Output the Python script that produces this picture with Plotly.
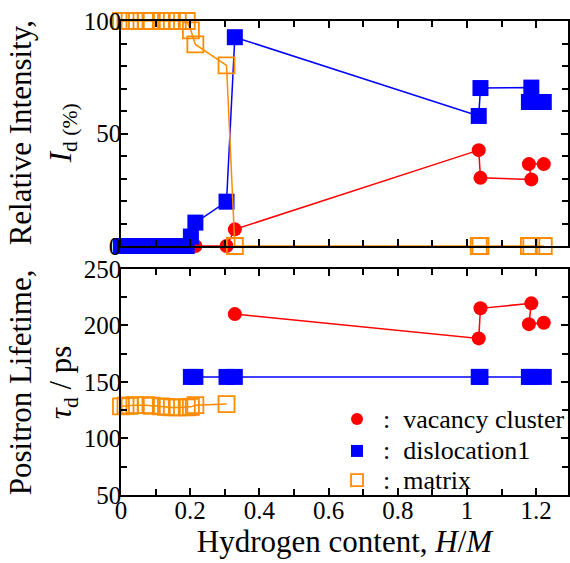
import plotly.graph_objects as go

# Hydrogen content H/M of each sample
h_content = [0.0, 0.013, 0.025, 0.039, 0.072, 0.089, 0.115, 0.13, 0.147, 0.164,
             0.19, 0.202, 0.215, 0.305, 0.329, 1.034, 1.039, 1.186, 1.179, 1.222]

# Relative intensity I_d (%) of each component
int_vacancy = [0, 0, 0, 0, 0, 0, 0, 0, 0, 0,
               0, 0, 0, 0, 7.4, 42.6, 30.3, 29.6, 36.4, 36.4]
int_disloc = [0, 0, 0, 0, 0, 0, 0, 0, 0, 0,
              0, 4.2, 10.4, 19.7, 92.8, 57.8, 70.2, 70.4, 64.0, 64.0]
int_matrix = [100, 100, 100, 100, 100, 100, 100, 100, 100, 100,
              100, 95.8, 89.6, 80.3, 0, 0, 0, 0, 0, 0]

# Positron lifetime tau_d (ps) of each component
tau_vacancy = [None, None, None, None, None, None, None, None, None, None,
               None, None, None, None, 210.1, 188.6, 215.2, 219.6, 201.2, 202.4]
tau_disloc = [None, None, None, None, None, None, None, None, None, None,
              None, 154.5, 154.5, 154.5, 154.5, 154.5, 154.5, 154.5, 154.5, 154.5]
tau_matrix = [128.5, 129.0, 129.0, 129.5, 129.5, 129.0, 128.5, 128.0, 127.5, 127.5,
              127.5, 128.0, 129.5, 130.5, None, None, None, None, None, None]

legend_names = ["vacancy cluster", "dislocation1", "matrix"]

RED = "#ff0000"
BLUE = "#0000ff"
ORANGE = "#ff8c00"
FONT = "Liberation Serif, Times New Roman, serif"

colors = [RED, BLUE, ORANGE]
symbols = ["circle", "square", "square-open"]
plot_sizes = [14, 16, 16]


def marker(i, size):
    m = dict(symbol=symbols[i], size=size, color=colors[i])
    m["line"] = dict(width=1.8 if i == 2 else 0, color=colors[i])
    return m


fig = go.Figure()

intensity = [int_vacancy, int_disloc, int_matrix]
lifetime = [tau_vacancy, tau_disloc, tau_matrix]

for i in range(3):
    fig.add_trace(go.Scatter(x=h_content, y=intensity[i], mode="lines+markers",
                             xaxis="x2", yaxis="y2", cliponaxis=False,
                             line=dict(color=colors[i], width=1.5),
                             marker=marker(i, plot_sizes[i]), showlegend=False,
                             name=legend_names[i]))
    fig.add_trace(go.Scatter(x=h_content, y=lifetime[i], mode="lines+markers",
                             xaxis="x", yaxis="y", cliponaxis=False,
                             line=dict(color=colors[i], width=1.5),
                             marker=marker(i, plot_sizes[i]), showlegend=False,
                             name=legend_names[i]))

# key inside the lifetime panel: symbols on a hidden unit overlay axis, labels as annotations
key_x = 0.528
key_y = [0.336, 0.195, 0.066]
for i in range(3):
    fig.add_trace(go.Scatter(x=[key_x], y=[key_y[i]], mode="markers",
                             xaxis="x3", yaxis="y3", marker=marker(i, 12),
                             showlegend=False, hoverinfo="skip"))

axis_common = dict(showline=True, linecolor="black", linewidth=1.6, mirror="ticks",
                   ticks="inside", tickcolor="black", tickwidth=1.6, ticklen=7,
                   showgrid=False, zeroline=False,
                   tickfont=dict(family=FONT, size=25, color="black"))
minor_common = dict(ticks="inside", ticklen=6, tickcolor="black", tickwidth=1.6)

annotations = [
    dict(text="Relative Intensity,<br><i>I</i><sub>d (%)</sub>", textangle=-90,
         xref="paper", yref="paper", x=0, y=0.763, xanchor="center", yanchor="middle",
         xshift=-78, showarrow=False, font=dict(family=FONT, size=31, color="black")),
    dict(text="Positron Lifetime,<br><i>τ</i><sub>d</sub> / ps", textangle=-90,
         xref="paper", yref="paper", x=0, y=0.238, xanchor="center", yanchor="middle",
         xshift=-78, showarrow=False, font=dict(family=FONT, size=31, color="black")),
]
for i in range(3):
    annotations.append(dict(text=":\u00a0\u00a0" + legend_names[i], xref="x3", yref="y3",
                            x=key_x, y=key_y[i], xanchor="left", yanchor="middle",
                            xshift=24, showarrow=False,
                            font=dict(family=FONT, size=26, color="black")))

fig.update_layout(
    width=570, height=563,
    margin=dict(l=121, r=0, t=21, b=68),
    paper_bgcolor="white", plot_bgcolor="white",
    font=dict(family=FONT, color="black"),
    showlegend=False,
    xaxis=dict(axis_common, range=[0, 1.292], dtick=0.2, tick0=0,
               minor=dict(minor_common, dtick=0.1),
               anchor="y", ticklabelstandoff=-8,
               title=dict(text="Hydrogen content, <i>H</i>/<i>M</i>",
                          font=dict(family=FONT, size=31), standoff=3)),
    xaxis2=dict(axis_common, range=[0, 1.292], dtick=0.2, tick0=0, matches="x",
                minor=dict(minor_common, dtick=0.1),
                anchor="y2", showticklabels=False),
    yaxis=dict(axis_common, range=[50, 250], dtick=50, tick0=50, domain=[0, 0.4768],
               minor=dict(minor_common, dtick=25),
               anchor="x", ticklabelstandoff=-7),
    yaxis2=dict(axis_common, range=[0, 100], dtick=50, tick0=0, domain=[0.5253, 1],
                minor=dict(minor_common, dtick=10),
                anchor="x2", ticklabelstandoff=-7),
    xaxis3=dict(range=[0, 1], visible=False, overlaying="x", anchor="y3"),
    yaxis3=dict(range=[0, 1], visible=False, overlaying="y", anchor="x3"),
    annotations=annotations,
)

fig.write_html("out.html")
